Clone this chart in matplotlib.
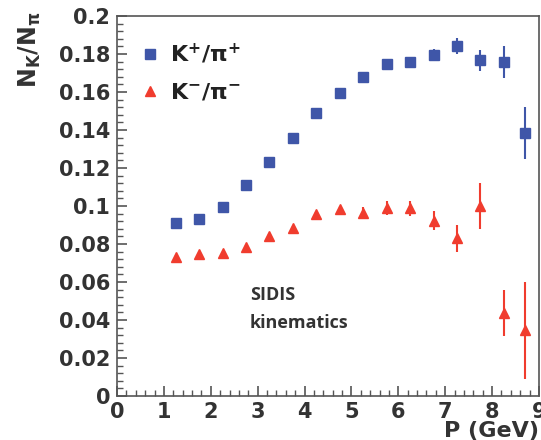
import matplotlib
matplotlib.use("Agg")
import matplotlib.pyplot as plt
from matplotlib.ticker import MultipleLocator, FormatStrFormatter

# momentum bins (GeV)
p_plus = [1.25, 1.75, 2.25, 2.75, 3.25, 3.75, 4.25, 4.75, 5.25, 5.75, 6.25, 6.75, 7.25, 7.75, 8.25, 8.7]
ratio_plus = [0.0912, 0.0932, 0.0995, 0.1109, 0.1232, 0.136, 0.149, 0.1595, 0.168, 0.1747, 0.176, 0.1795, 0.1842, 0.1768, 0.1758, 0.1384]
err_plus = [0.0005, 0.0005, 0.0006, 0.0007, 0.0008, 0.0008, 0.0009, 0.001, 0.0012, 0.0015, 0.0025, 0.003, 0.004, 0.0055, 0.0084, 0.0137]

p_minus = [1.25, 1.75, 2.25, 2.75, 3.25, 3.75, 4.25, 4.75, 5.25, 5.75, 6.25, 6.75, 7.25, 7.75, 8.25, 8.7]
ratio_minus = [0.0734, 0.0746, 0.0751, 0.0786, 0.0844, 0.0886, 0.0956, 0.0986, 0.0965, 0.099, 0.0988, 0.0923, 0.083, 0.1, 0.0437, 0.0347]
err_minus = [0.0006, 0.0006, 0.0007, 0.0008, 0.0009, 0.001, 0.0012, 0.0015, 0.0028, 0.0035, 0.004, 0.005, 0.007, 0.012, 0.012, 0.0255]

blue = "#3f56a8"
red = "#f03c2e"
grey = "#333333"

fig = plt.figure(figsize=(5.41, 4.40), dpi=100)
ax = fig.add_axes([117 / 541, 44 / 440, 422 / 541, 380 / 440])

eb_plus = ax.errorbar(p_plus, ratio_plus, yerr=err_plus, fmt="s", color=blue, ms=7,
                      elinewidth=1.5, capsize=0)
eb_minus = ax.errorbar(p_minus, ratio_minus, yerr=err_minus, fmt="^", color=red, ms=7.5,
                       elinewidth=1.5, capsize=0)

ax.set_xlim(0, 9)
ax.set_ylim(0, 0.2)
ax.xaxis.set_major_locator(MultipleLocator(1))
ax.xaxis.set_minor_locator(MultipleLocator(0.2))
ax.yaxis.set_major_locator(MultipleLocator(0.02))
ax.yaxis.set_minor_locator(MultipleLocator(0.004))
ax.yaxis.set_major_formatter(FormatStrFormatter("%g"))

ax.tick_params(which="both", direction="in", colors="#555555", labelcolor=grey)
ax.tick_params(which="major", length=7, width=1.2, labelsize=15)
ax.tick_params(which="minor", length=4, width=1)
ax.tick_params(axis="y", pad=5)
ax.tick_params(axis="x", pad=4)
for lab in ax.get_xticklabels() + ax.get_yticklabels():
    lab.set_fontweight("bold")
for s in ax.spines.values():
    s.set_color("#555555")
    s.set_linewidth(1.2)

# legend shows markers only, no error bars
leg = ax.legend([eb_plus.lines[0], eb_minus.lines[0]],
                [r"$\mathbf{K^{+}/\pi^{+}}$", r"$\mathbf{K^{-}/\pi^{-}}$"],
                loc="upper left", bbox_to_anchor=(0.005, 0.985), frameon=False,
                fontsize=16, handlelength=1.0, handletextpad=0.4,
                labelspacing=0.7)
for t in leg.get_texts():
    t.set_color("#222222")

ax.text(133 / 422, 1 - 279 / 380, "SIDIS", transform=ax.transAxes, fontsize=13,
        family="Open Sans", fontweight="bold", color=grey, va="center")
ax.text(133 / 422, 1 - 307 / 380, "kinematics", transform=ax.transAxes, fontsize=13,
        family="Open Sans", fontweight="bold", color=grey, va="center")

fig.text(539 / 541, 3 / 440, "P (GeV)", ha="right", va="baseline",
         fontsize=16, fontweight="bold", color=grey)
fig.text(30 / 541, 1 - 12 / 440, r"$\mathbf{N_K/N_\pi}$", rotation=90,
         ha="center", va="top", fontsize=17, color=grey)

fig.savefig("out.png", dpi=100)
